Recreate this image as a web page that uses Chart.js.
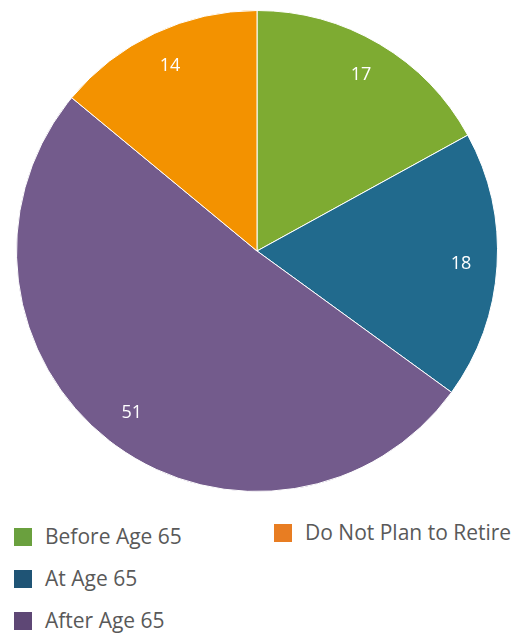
<!DOCTYPE html>
<html>
<head>
<meta charset="utf-8">
<script src="https://cdn.jsdelivr.net/npm/chart.js@4/dist/chart.umd.min.js"></script>
<style>
  body { margin: 0; background: #fff; width: 525px; height: 635px; position: relative; overflow: hidden; }
  #wrap { position: absolute; left: 0; top: 0; width: 514px; height: 502px; }
  #legend {
    position: absolute; left: 14px; top: 522px;
    display: grid; grid-template-rows: repeat(3, 42px); grid-template-columns: 260px 250px;
    grid-auto-flow: column;
    font-family: "Open Sans", Lato, sans-serif; font-size: 21px; color: #595959;
  }
  .item { display: flex; align-items: flex-start; height: 42px; line-height: 29px; }
  .swatch { width: 18px; height: 18px; margin-top: 6px; margin-right: 13px; flex: none; }
  .item.col2 { margin-top: -4px; }
</style>
</head>
<body>
<div id="wrap"><canvas id="pie"></canvas></div>
<div id="legend"></div>
<script>
const labels = ['Before Age 65', 'At Age 65', 'After Age 65', 'Do Not Plan to Retire'];
const values = [17, 18, 51, 14];
const sliceColors = ['#7eab32', '#216a8d', '#735b8c', '#f39200'];
const legendColors = ['#6aa03e', '#1f5475', '#5e4775', '#e87d22'];

// values printed inside each slice
const sliceLabels = {
  id: 'sliceLabels',
  afterDatasetsDraw(chart) {
    const ctx = chart.ctx;
    const meta = chart.getDatasetMeta(0);
    ctx.save();
    ctx.fillStyle = '#ffffff';
    ctx.font = '18px "Open Sans", Lato, sans-serif';
    ctx.textAlign = 'center';
    ctx.textBaseline = 'middle';
    meta.data.forEach((arc, i) => {
      const { x, y, startAngle, endAngle, outerRadius } = arc.getProps(['x', 'y', 'startAngle', 'endAngle', 'outerRadius'], true);
      const mid = (startAngle + endAngle) / 2;
      const r = outerRadius * 0.85;
      ctx.fillText(String(values[i]), x + Math.cos(mid) * r, y + Math.sin(mid) * r);
    });
    ctx.restore();
  }
};

new Chart(document.getElementById('pie'), {
  type: 'pie',
  data: {
    labels: labels,
    datasets: [{
      data: values,
      backgroundColor: sliceColors,
      borderColor: '#ffffff',
      borderWidth: 1
    }]
  },
  options: {
    responsive: true,
    maintainAspectRatio: false,
    animation: false,
    layout: { padding: 10 },
    plugins: {
      legend: { display: false },
      tooltip: { enabled: false }
    }
  },
  plugins: [sliceLabels]
});

// legend laid out in columns, three rows each
const legend = document.getElementById('legend');
labels.forEach((name, i) => {
  const item = document.createElement('div');
  item.className = 'item' + (i >= 3 ? ' col2' : '');
  const sw = document.createElement('span');
  sw.className = 'swatch';
  sw.style.background = legendColors[i];
  const txt = document.createElement('span');
  txt.textContent = name;
  item.appendChild(sw);
  item.appendChild(txt);
  legend.appendChild(item);
});
</script>
</body>
</html>
